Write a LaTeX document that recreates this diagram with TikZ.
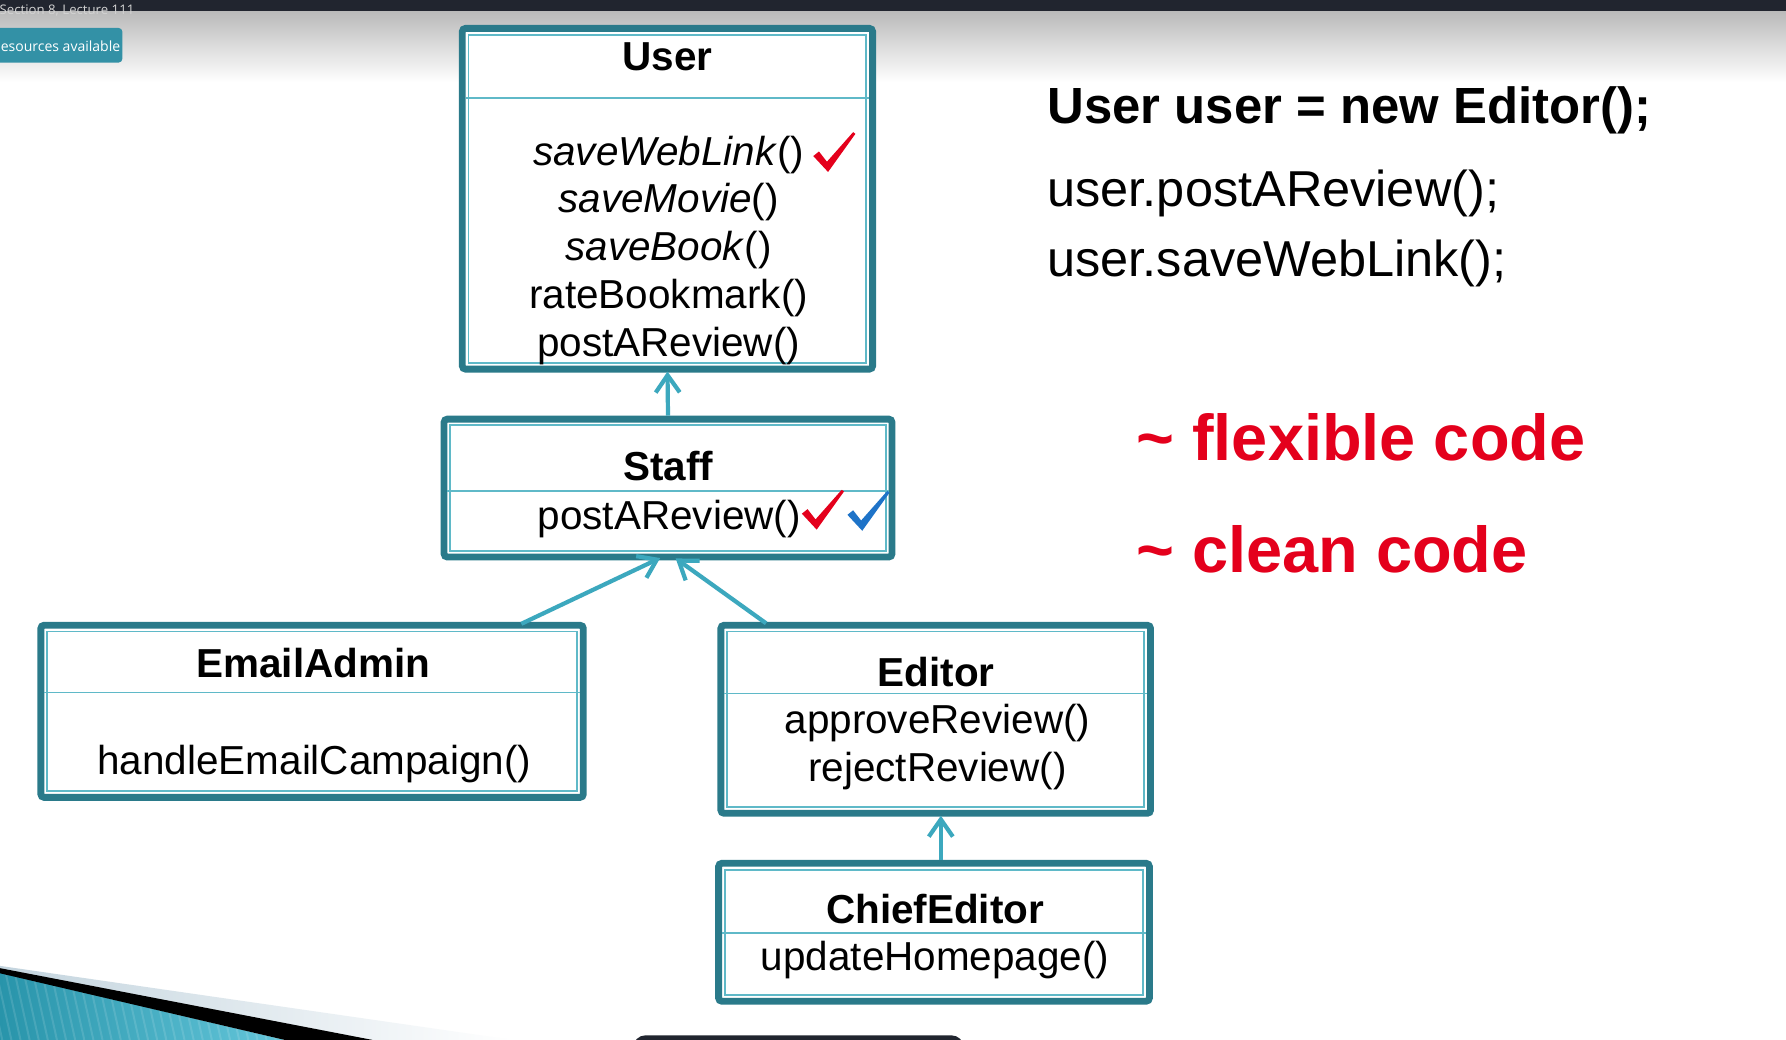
\documentclass[tikz,border=0pt]{standalone}
\usepackage{fontspec}
\setmainfont{Liberation Sans}
\newfontfamily\uifont{Open Sans}
\usetikzlibrary{arrows.meta}

\definecolor{boxteal}{RGB}{42,122,138}
\definecolor{lineteal}{RGB}{95,185,200}
\definecolor{arrowteal}{RGB}{60,168,190}
\definecolor{tickred}{RGB}{228,0,28}
\definecolor{tickblue}{RGB}{30,115,200}
\definecolor{barnavy}{RGB}{33,37,47}
\definecolor{btnteal}{RGB}{51,145,166}
\definecolor{swoosh}{RGB}{40,148,170}
\definecolor{swooshlight}{RGB}{100,198,218}
\definecolor{wedge}{RGB}{195,212,222}

\tikzset{
  umlbox/.style={draw=boxteal, fill=white, line width=1.7pt, rounded corners=0.8pt, inner sep=0pt, outer sep=0pt},
  innerline/.style={draw=lineteal, line width=0.45pt},
  divline/.style={draw=lineteal, line width=0.4pt, shorten <=0.85pt, shorten >=0.85pt},
  classtitle/.style={font=\fontsize{10.1}{12}\selectfont\bfseries, anchor=base, inner sep=0pt},
  classops/.style={font=\fontsize{10.1}{11.95}\selectfont, anchor=base, align=center, inner sep=0pt},
  inherit/.style={draw=arrowteal, line width=1.05pt, shorten <=0.85pt, shorten >=0.6pt,
    -{Straight Barb[length=4.3pt, width=6pt]}},
  tickmark/.pic={\fill (0,21) -- (5,17) -- (12,26) -- (35,0) -- (37,1.5) -- (13,35) -- cycle;},
  slidetext/.style={font=\fontsize{12.6}{15}\selectfont, anchor=base west, inner sep=0pt},
  remark/.style={font=\fontsize{16.2}{19}\selectfont\bfseries, text=tickred, anchor=base west, inner sep=0pt}
}

\begin{document}
\begin{tikzpicture}[x=0.01cm, y=-0.01cm]
  \useasboundingbox (0,0) rectangle (1568,913);
  \fill[white] (0,0) rectangle (1568,913);

  % slide header
  \shade[top color=gray!55, bottom color=white] (0,9) rectangle (1568,72);
  \fill[barnavy] (0,0) rectangle (1568,9.7);
  \node[font=\uifont\fontsize{3.3}{4}\selectfont, text=gray!35, anchor=base west, inner sep=0pt] (section) at (-1,13) {Section 8, Lecture 111};
  \fill[btnteal, rounded corners=1pt] (-4,24.5) rectangle (107.5,55);
  \node[font=\uifont\fontsize{3.5}{4}\selectfont, text=white, anchor=base west, inner sep=0pt] (resources) at (0,45.5) {esources available};

  % bottom left swoosh
  \shade[left color=wedge, right color=white] (0,848) -- (450,913) -- (326,913) -- (0,851) -- cycle;
  \shade[left color=swoosh, right color=swooshlight] (0,854) -- (250,913) -- (0,913) -- cycle;
  \begin{scope}
    \clip (0,854) -- (250,913) -- (0,913) -- cycle;
    \foreach \sx in {-20,-12,...,260}
      \draw[white, opacity=0.12, line width=0.5pt] (\sx,850) -- (\sx+14,913);
  \end{scope}
  \fill[black] (0,850) -- (327,913) -- (250,913) -- (0,854.5) -- cycle;
  \fill[barnavy, rounded corners=3pt] (556,909) rectangle (846,935);

  % classes
  \node[umlbox, minimum width=3.60cm, minimum height=2.99cm] (user) at (586,174.5) {};
  \node[umlbox, minimum width=3.93cm, minimum height=1.21cm] (staff) at (586.5,428.5) {};
  \node[umlbox, minimum width=4.76cm, minimum height=1.51cm] (emailadmin) at (274,624.5) {};
  \node[umlbox, minimum width=3.77cm, minimum height=1.65cm] (editor) at (821.5,631.5) {};
  \node[umlbox, minimum width=3.78cm, minimum height=1.21cm] (chiefeditor) at (820,818.5) {};

  \draw[innerline] ([shift={(5.5,5.5)}]user.north west) rectangle ([shift={(-5.5,-5.5)}]user.south east);
  \draw[innerline] ([shift={(5.5,5.5)}]staff.north west) rectangle ([shift={(-5.5,-5.5)}]staff.south east);
  \draw[innerline] ([shift={(5.5,5.5)}]emailadmin.north west) rectangle ([shift={(-5.5,-5.5)}]emailadmin.south east);
  \draw[innerline] ([shift={(5.5,5.5)}]editor.north west) rectangle ([shift={(-5.5,-5.5)}]editor.south east);
  \draw[innerline] ([shift={(5.5,5.5)}]chiefeditor.north west) rectangle ([shift={(-5.5,-5.5)}]chiefeditor.south east);

  \draw[divline] (user.west |- 0,86) -- (user.east |- 0,86);
  \draw[divline] (staff.west |- 0,431) -- (staff.east |- 0,431);
  \draw[divline] (emailadmin.west |- 0,608) -- (emailadmin.east |- 0,608);
  \draw[divline] (editor.west |- 0,609) -- (editor.east |- 0,609);
  \draw[divline] (chiefeditor.west |- 0,819) -- (chiefeditor.east |- 0,819);

  % base of a multi-line node is the baseline of its last line
  \node[classtitle] (usertitle) at (586,62) {User};
  \node[classops] (userops) at (587,313) {\textit{saveWebLink}()\\ \textit{saveMovie}()\\ \textit{saveBook}()\\ rateBookmark()\\ postAReview()};
  \node[classtitle] (stafftitle) at (586.5,422) {Staff};
  \node[classops] (staffops) at (587.5,465) {postAReview()};
  \node[classtitle] (emailtitle) at (275,595) {EmailAdmin};
  \node[classops] (emailops) at (276,680) {handleEmailCampaign()};
  \node[classtitle] (editortitle) at (822,603) {Editor};
  \node[classops] (editorops) at (823,686) {approveReview()\\ rejectReview()};
  \node[classtitle] (chieftitle) at (821,811) {ChiefEditor};
  \node[classops] (chiefops) at (821,852) {updateHomepage()};

  \pic[fill=tickred] at (714,116) {tickmark};
  \pic[fill=tickred] at (704,430) {tickmark};
  \pic[fill=tickblue] at (744,431) {tickmark};

  % inheritance
  \draw[inherit] (staff.north) -- (user.south);
  \draw[inherit] ([shift={(181,0)}]emailadmin.north) -- ([shift={(-5,0)}]staff.south);
  \draw[inherit] ([shift={(-146.5,0)}]editor.north) -- ([shift={(5,0)}]staff.south);
  \draw[inherit] ([shift={(6,0)}]chiefeditor.north) -- ([shift={(4.5,0)}]editor.south);

  % code on the right
  \node[slidetext, font=\fontsize{12.7}{15}\selectfont\bfseries] (decl) at (919,108) {User user = new Editor();};
  \node[slidetext] (callpost) at (919,181) {user.postAReview();};
  \node[slidetext] (callsave) at (919,243) {user.saveWebLink();};
  \node[remark] (flexible) at (997,404) {\textasciitilde\ flexible code};
  \node[remark] (clean) at (997,503) {\textasciitilde\ clean code};
\end{tikzpicture}
\end{document}
